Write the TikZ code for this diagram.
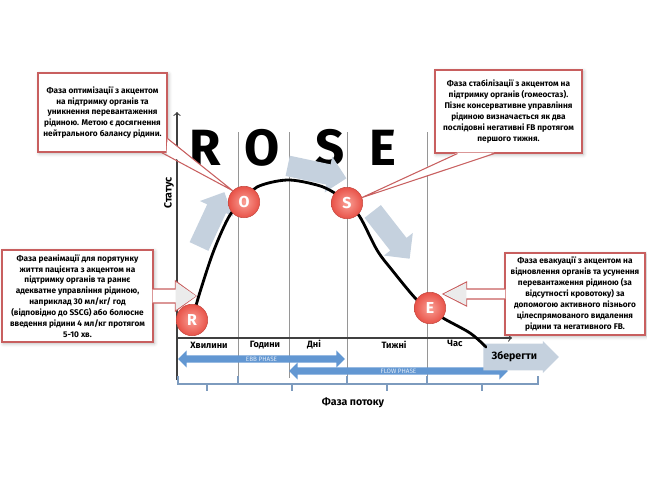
\documentclass[tikz,border=0pt]{standalone}
\usepackage{fontspec}
\setmainfont{Fira Sans}
\usetikzlibrary{shapes,arrows,positioning,calc,shadows.blur}

\definecolor{calloutred}{RGB}{200,95,95}
\definecolor{ballred}{RGB}{232,82,72}
\definecolor{balllight}{RGB}{250,160,150}
\definecolor{stepblue}{RGB}{197,209,222}
\definecolor{phaseblue}{RGB}{98,151,210}
\definecolor{bracketblue}{RGB}{125,155,190}
\definecolor{gridgrey}{RGB}{150,150,150}

\tikzset{
  callout/.style={draw=calloutred, fill=white, line width=0.6pt, align=center,
    font=\fontsize{4.7}{6.2}\selectfont\bfseries, inner sep=2pt,
    blur shadow={shadow blur steps=4, shadow xshift=0.8pt, shadow yshift=-0.8pt, shadow opacity=30}},
  wedge/.style={draw=calloutred, line width=0.6pt},
  phasecircle/.style={circle, minimum size=0.63cm, inner sep=0pt, inner color=balllight,
    outer color=ballred, draw=ballred!85!black, line width=0.3pt,
    text=white, font=\fontsize{9}{9}\selectfont\bfseries},
  roseletter/.style={font=\fontsize{29}{30}\selectfont\bfseries},
  steparrow/.style={single arrow, fill=stepblue, inner sep=0.2cm,
    single arrow head extend=0.16cm, minimum height=1.2cm},
  keeparrow/.style={single arrow, fill=stepblue, inner sep=4.5pt,
    single arrow head extend=0.05cm, minimum height=1.24cm, anchor=tail,
    font=\fontsize{6}{7}\selectfont\bfseries},
  phasearrow/.style={double arrow, fill=phaseblue, text=white!80!phaseblue,
    inner sep=0.6pt, double arrow head extend=0.1cm, font=\fontsize{3.6}{4}\selectfont},
  timelabel/.style={font=\fontsize{5.2}{6}\selectfont\bfseries},
  axistitle/.style={font=\fontsize{6}{7}\selectfont\bfseries},
  gridline/.style={gridgrey, line width=0.5pt},
  axisline/.style={black!75, line width=0.6pt},
  bracket/.style={bracketblue, line width=0.6pt},
}

\begin{document}
\begin{tikzpicture}[x=0.02cm, y=-0.02cm]
    \useasboundingbox (0,0) rectangle (647,485);

    % Grid and axes
    \foreach \gx in {238,289,347,427}
        \draw[gridline] (\gx,132) -- (\gx,378);
    \draw[axisline,->] (177,380) -- (177,112);
    \draw[axisline,->] (177,338) -- (512,338);

    % Time brackets
    \foreach \a/\m/\b in {178/207/238, 238/292/347, 347/387/427, 427/482/538}
        \draw[bracket] (\a,376) -- (\a,384) -- (\b,384) -- (\b,376) (\m,384) -- (\m,391);

    % Time labels
    \node[timelabel] (minutes) at (209,345) {Хвилини};
    \node[timelabel] (hours) at (265,345) {Години};
    \node[timelabel] (days) at (314,345) {Дні};
    \node[timelabel] (weeks) at (394,345) {Тижні};
    \node[timelabel] (time) at (455,343) {Час};

    % Phases
    \node[phasearrow, minimum height=3.34cm] (ebb) at (261.5,359) {EBB PHASE};
    \node[phasearrow, minimum height=4.38cm] (flow) at (398.5,371) {FLOW PHASE};
    \node[keeparrow] (keep) at (483,357) {Зберегти};

    % Axis titles
    \node[axistitle, rotate=90] (status) at (169,193) {Статус};
    \node[axistitle] (flowphase) at (353,403) {Фаза потоку};

    % ROSE
    \node[roseletter] (lr) at (205,148) {R};
    \node[roseletter] (lo) at (262,148) {O};
    \node[roseletter] (ls) at (330,148) {S};
    \node[roseletter] (le) at (383,148) {E};

    % Direction arrows
    \node[steparrow, rotate=65] (rise) at (209.5,224) {};
    \node[steparrow, rotate=-12] (top) at (312,171) {};
    \node[steparrow, rotate=-52] (fall) at (388,231) {};

    % Status curve
    \draw[line width=1.6pt, line cap=round] plot[smooth, tension=0.55] coordinates {
        (192,320) (200,292) (214,250) (230,215) (244,202) (257,187) (287,180)
        (317,185) (333,192) (347,203) (360,217) (377,250) (392,270) (417,300)
        (430,308) (443,318) (470,333) (486,347)};

    % Callouts
    \node[callout, minimum width=2.58cm, minimum height=1.58cm] (opt) at (102.5,112.5)
        {Фаза оптимізації з акцентом\\на підтримку органів та\\уникнення перевантаження\\рідиною. Метою є досягнення\\нейтрального балансу рідини.};
    \node[callout, minimum width=2.94cm, minimum height=1.66cm] (stab) at (508.5,111.5)
        {Фаза стабілізації з акцентом на\\підтримку органів (гомеостаз).\\Пізнє консервативне управління\\рідиною визначається як два\\послідовні негативні FB протягом\\першого тижня.};
    \node[callout, minimum width=3.02cm, minimum height=1.84cm] (resus) at (77.5,296)
        {Фаза реанімації для порятунку\\життя пацієнта з акцентом на\\підтримку органів та раннє\\адекватне управління рідиною,\\наприклад 30 мл/кг/ год\\(відповідно до SSCG) або болюсне\\введення рідини 4 мл/кг протягом\\5-10 хв.};
    \node[callout, minimum width=2.8cm, minimum height=1.64cm] (evac) at (575,294)
        {Фаза евакуації з акцентом на\\відновлення органів та усунення\\перевантаження рідиною (за\\відсутності кровотоку) за\\допомогою активного пізнього\\цілеспрямованого видалення\\рідини та негативного FB.};

    % Phase circles
    \node[phasecircle] (r) at (192,320) {R};
    \node[phasecircle] (o) at (244,202) {O};
    \node[phasecircle] (s) at (347,203) {S};
    \node[phasecircle] (e) at (430,308) {E};

    % Pointers
    \fill[white] ($(opt.south east)+(0,-14)$) -- (o.135) -- ($(opt.south east)+(-1,1)$) -- cycle;
    \draw[wedge] ($(opt.south east)+(0,-14)$) -- (o.135) -- ($(opt.south east)+(-6,0)$);
    \fill[white] ($(stab.south west)+(23,-1)$) -- (s.20) -- ($(stab.south west)+(60,-1)$) -- cycle;
    \draw[wedge] ($(stab.south west)+(23,0)$) -- (s.20) -- ($(stab.south west)+(60,0)$);
    \coordinate (resustip) at (196,296);
    \filldraw[wedge, fill=white] ($(resus.east)+(-1,-7)$) -- ($(resus.east)+(22,-7)$)
        -- ($(resus.east)+(22,-15)$) -- (resustip) -- ($(resus.east)+(22,15)$)
        -- ($(resus.east)+(22,7)$) -- ($(resus.east)+(-1,7)$);
    \fill[black!8] ($(resus.east)+(22,-14)$) -- (196,296) -- ($(resus.east)+(22,14)$) -- cycle;
    \coordinate (evactip) at (443,294);
    \filldraw[wedge, fill=white] ($(evac.west)+(1,-5)$) -- ($(evac.west)+(-38,-5)$)
        -- ($(evac.west)+(-38,-12)$) -- (evactip) -- ($(evac.west)+(-38,12)$)
        -- ($(evac.west)+(-38,5)$) -- ($(evac.west)+(1,5)$);
    \fill[black!8] ($(evac.west)+(-38,-11)$) -- (444,294) -- ($(evac.west)+(-38,11)$) -- cycle;
\end{tikzpicture}
\end{document}
